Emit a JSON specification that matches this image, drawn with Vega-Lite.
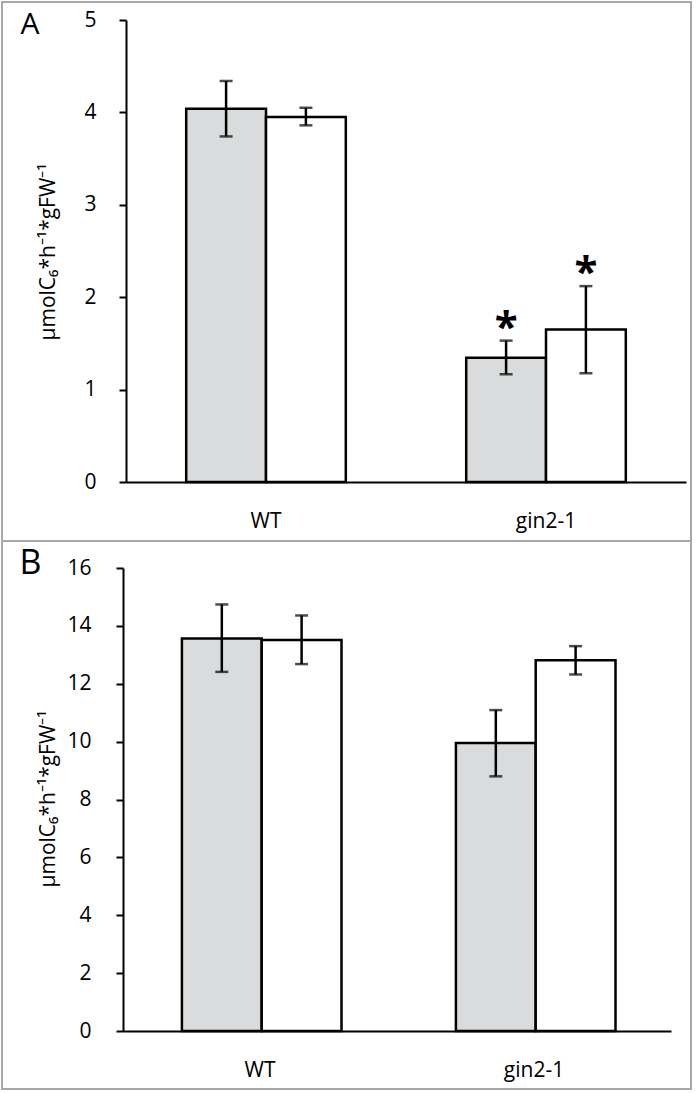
{
  "$schema": "https://vega.github.io/schema/vega-lite/v6.json",
  "padding": {"left": 1, "top": 1, "right": 1, "bottom": 1},
  "spacing": 0,
  "bounds": "flush",
  "background": "white",
  "config": {
    "font": "Open Sans",
    "view": {"stroke": "#a8a8a8", "strokeWidth": 2},
    "axis": {"domainColor": "black", "tickColor": "black", "labelColor": "black", "titleColor": "black", "labelFont": "Open Sans", "titleFont": "Open Sans", "grid": false}
  },
  "datasets": {
    "panelA": [
      {"genotype": "WT", "series": "1", "value": 4.04, "lo": 3.74, "hi": 4.34, "sig": ""},
      {"genotype": "WT", "series": "2", "value": 3.95, "lo": 3.86, "hi": 4.05, "sig": ""},
      {"genotype": "gin2-1", "series": "1", "value": 1.345, "lo": 1.166, "hi": 1.53, "sig": "*"},
      {"genotype": "gin2-1", "series": "2", "value": 1.65, "lo": 1.177, "hi": 2.12, "sig": "*"}
    ],
    "panelB": [
      {"genotype": "WT", "series": "1", "value": 13.56, "lo": 12.41, "hi": 14.74, "sig": ""},
      {"genotype": "WT", "series": "2", "value": 13.51, "lo": 12.68, "hi": 14.36, "sig": ""},
      {"genotype": "gin2-1", "series": "1", "value": 9.95, "lo": 8.8, "hi": 11.09, "sig": ""},
      {"genotype": "gin2-1", "series": "2", "value": 12.81, "lo": 12.32, "hi": 13.3, "sig": ""}
    ]
  },
  "vconcat": [
    {
      "width": 689,
      "height": 539,
      "data": {"name": "panelA"},
      "encoding": {
        "x": {"field": "genotype", "type": "nominal", "sort": ["WT", "gin2-1"],
          "scale": {"range": [124, 684], "paddingInner": 0.43, "paddingOuter": 0.215},
          "axis": {"orient": "bottom", "offset": -59, "ticks": false, "tickSize": 0, "domainWidth": 2, "labelAngle": 0, "labelFontSize": 21, "labelPadding": 39, "labelBaseline": "middle",
            "title": "A", "titleX": 18, "titleY": -449, "titleAlign": "left", "titleBaseline": "alphabetic", "titleAngle": 0, "titleFontSize": 30, "titleFontWeight": "normal"}},
        "xOffset": {"field": "series", "type": "nominal", "sort": ["1", "2"], "scale": {"paddingInner": 0, "paddingOuter": 0}}
      },
      "layer": [
        {
          "mark": {"type": "bar", "stroke": "black", "strokeWidth": 2.5},
          "encoding": {
            "y": {"field": "value", "type": "quantitative",
              "scale": {"domain": [0, 5], "range": [480, 18], "nice": false, "zero": false},
              "axis": {"orient": "left", "offset": -124, "values": [0, 1, 2, 3, 4, 5], "format": "d", "domainWidth": 2, "tickWidth": 2, "tickSize": 7, "labelFontSize": 21, "labelPadding": 23, "title": "µmolC₆*h⁻¹*gFW⁻¹", "titleFontSize": 21, "titleFontWeight": "normal", "titleX": -72, "titleY": 338, "titleAlign": "left", "titleBaseline": "alphabetic", "titleAngle": 270}},
            "fill": {"field": "series", "type": "nominal", "scale": {"domain": ["1", "2"], "range": ["#dadbdc", "#ffffff"]}, "legend": null}
          }
        },
        {
          "mark": {"type": "rule", "color": "black", "strokeWidth": 2.5},
          "encoding": {
            "y": {"field": "lo", "type": "quantitative", "scale": {"domain": [0, 5], "range": [480, 18], "nice": false, "zero": false}},
            "y2": {"field": "hi"}
          }
        },
        {
          "mark": {"type": "tick", "orient": "horizontal", "color": "black", "size": 13, "thickness": 2.5},
          "encoding": {
            "y": {"field": "lo", "type": "quantitative", "scale": {"domain": [0, 5], "range": [480, 18], "nice": false, "zero": false}}
          }
        },
        {
          "mark": {"type": "tick", "orient": "horizontal", "color": "black", "size": 13, "thickness": 2.5},
          "encoding": {
            "y": {"field": "hi", "type": "quantitative", "scale": {"domain": [0, 5], "range": [480, 18], "nice": false, "zero": false}}
          }
        },
        {
          "mark": {"type": "text", "color": "black", "fontSize": 42, "fontWeight": "bold", "baseline": "alphabetic", "align": "center", "dy": 0, "font": "Open Sans"},
          "encoding": {
            "y": {"field": "hi", "type": "quantitative", "scale": {"domain": [0, 5], "range": [480, 18], "nice": false, "zero": false}},
            "text": {"field": "sig", "type": "nominal"}
          }
        }
      ]
    },
    {
      "width": 689,
      "height": 548,
      "data": {"name": "panelB"},
      "encoding": {
        "x": {"field": "genotype", "type": "nominal", "sort": ["WT", "gin2-1"],
          "scale": {"range": [121, 669], "paddingInner": 0.43, "paddingOuter": 0.215},
          "axis": {"orient": "bottom", "offset": -58, "ticks": false, "tickSize": 0, "domainWidth": 2, "labelAngle": 0, "labelFontSize": 21, "labelPadding": 39, "labelBaseline": "middle",
            "title": "B", "titleX": 17, "titleY": -458, "titleAlign": "left", "titleBaseline": "alphabetic", "titleAngle": 0, "titleFontSize": 34, "titleFontWeight": "normal"}},
        "xOffset": {"field": "series", "type": "nominal", "sort": ["1", "2"], "scale": {"paddingInner": 0, "paddingOuter": 0}}
      },
      "layer": [
        {
          "mark": {"type": "bar", "stroke": "black", "strokeWidth": 2.5},
          "encoding": {
            "y": {"field": "value", "type": "quantitative",
              "scale": {"domain": [0, 16], "range": [490, 27], "nice": false, "zero": false},
              "axis": {"orient": "left", "offset": -121, "values": [0, 2, 4, 6, 8, 10, 12, 14, 16], "format": "d", "domainWidth": 2, "tickWidth": 2, "tickSize": 7, "labelFontSize": 21, "labelPadding": 25, "title": "µmolC₆*h⁻¹*gFW⁻¹", "titleFontSize": 21, "titleFontWeight": "normal", "titleX": -69, "titleY": 346, "titleAlign": "left", "titleBaseline": "alphabetic", "titleAngle": 270}},
            "fill": {"field": "series", "type": "nominal", "scale": {"domain": ["1", "2"], "range": ["#dadbdc", "#ffffff"]}, "legend": null}
          }
        },
        {
          "mark": {"type": "rule", "color": "black", "strokeWidth": 2.5},
          "encoding": {
            "y": {"field": "lo", "type": "quantitative", "scale": {"domain": [0, 16], "range": [490, 27], "nice": false, "zero": false}},
            "y2": {"field": "hi"}
          }
        },
        {
          "mark": {"type": "tick", "orient": "horizontal", "color": "black", "size": 13, "thickness": 2.5},
          "encoding": {
            "y": {"field": "lo", "type": "quantitative", "scale": {"domain": [0, 16], "range": [490, 27], "nice": false, "zero": false}}
          }
        },
        {
          "mark": {"type": "tick", "orient": "horizontal", "color": "black", "size": 13, "thickness": 2.5},
          "encoding": {
            "y": {"field": "hi", "type": "quantitative", "scale": {"domain": [0, 16], "range": [490, 27], "nice": false, "zero": false}}
          }
        }
      ]
    }
  ]
}
